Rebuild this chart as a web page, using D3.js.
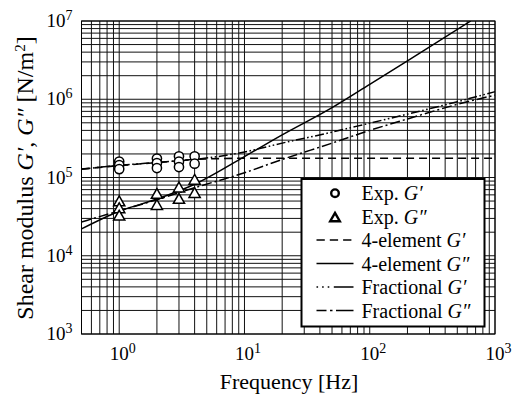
<!DOCTYPE html>
<html>
<head>
<meta charset="utf-8">
<script src="https://cdn.jsdelivr.net/npm/d3@7"></script>
<style>
  body { margin: 0; background: #fff; }
  text { font-family: "Liberation Serif", "Times New Roman", serif; fill: #000; }
</style>
</head>
<body>
<div id="graph"></div>
<script>
// experimental storage modulus G' (circles)
var expFreqG1 = [1, 1, 1, 2, 2, 2, 3, 3, 3, 4, 4];
var expG1 = [1.60e5, 1.44e5, 1.28e5, 1.75e5, 1.53e5, 1.32e5, 1.87e5, 1.60e5, 1.36e5, 1.87e5, 1.50e5];

// experimental loss modulus G'' (triangles)
var expFreqG2 = [1, 1, 1, 2, 2, 3, 3, 4, 4];
var expG2 = [4.98e4, 4.07e4, 3.27e4, 6.2e4, 4.48e4, 7.5e4, 5.35e4, 9.4e4, 6.37e4];

// model curves
var modelFreq = [0.5, 1, 2, 4, 10, 20, 50, 100, 200, 500, 1000];
var fourElemG1 = [1.28e5, 1.42e5, 1.55e5, 1.70e5, 1.76e5, 1.76e5, 1.76e5, 1.76e5, 1.76e5, 1.76e5, 1.76e5];
var fracG1 = [1.28e5, 1.43e5, 1.56e5, 1.70e5, 2.12e5, 2.75e5, 3.80e5, 4.95e5, 6.45e5, 9.3e5, 1.25e6];
var fracG2 = [2.7e4, 3.75e4, 5.2e4, 7.4e4, 1.15e5, 1.7e5, 2.75e5, 4.0e5, 5.6e5, 8.6e5, 1.13e6];
var fourElemG2Freq = [0.5, 1, 2, 4, 10, 20, 50, 100, 200, 640];
var fourElemG2 = [2.2e4, 3.7e4, 5.3e4, 8.2e4, 1.85e5, 3.5e5, 7.8e5, 1.55e6, 3.1e6, 1.0e7];

var xTickValues = [1, 10, 100, 1000];
var yTickValues = [1e3, 1e4, 1e5, 1e6, 1e7];

var legendLabels = ["Exp. ", "Exp. ", "4-element ", "4-element ", "Fractional ", "Fractional "];
var legendSymbols = ["G\u2032", "G\u2033", "G\u2032", "G\u2033", "G\u2032", "G\u2033"];

// set the dimensions and margins of the graph
var margin = {top: 21, right: 25, bottom: 67, left: 81.5},
    width = 520 - margin.left - margin.right,
    height = 401 - margin.top - margin.bottom;

var x = d3.scaleLog().domain([0.5, 1000]).range([0, width]);
var y = d3.scaleLog().domain([1e3, 1e7]).range([height, 0]);

var svg = d3.select("#graph").append("svg")
    .attr("width", 520)
    .attr("height", 401)
  .append("g")
    .attr("transform", "translate(" + margin.left + "," + margin.top + ")");

svg.append("clipPath").attr("id", "plotclip")
  .append("rect").attr("x", -6).attr("width", width + 6).attr("height", height);

// grid
var grid = svg.append("g").attr("stroke", "#111").attr("stroke-width", 1);
grid.selectAll(".vx").data(x.ticks()).enter().append("line")
    .attr("x1", function(d) { return x(d); }).attr("x2", function(d) { return x(d); })
    .attr("y1", 0).attr("y2", height);
grid.selectAll(".hy").data(y.ticks()).enter().append("line")
    .attr("y1", function(d) { return y(d); }).attr("y2", function(d) { return y(d); })
    .attr("x1", 0).attr("x2", width);

// curves
var valueline = d3.line()
    .x(function(d) { return x(d[0]); })
    .y(function(d) { return y(d[1]); })
    .curve(d3.curveMonotoneX);

var curves = [
  {f: modelFreq, v: fourElemG1, dash: "8,5", w: 1.6},
  {f: fourElemG2Freq, v: fourElemG2, dash: null, w: 1.5},
  {f: modelFreq, v: fracG1, dash: "9,2.5,1.6,2.5,1.6,2.5", w: 1.5},
  {f: modelFreq, v: fracG2, dash: "10,3,2,3", w: 1.5}
];
var plot = svg.append("g").attr("clip-path", "url(#plotclip)");
curves.forEach(function(c) {
  plot.append("path")
    .datum(d3.zip(c.f, c.v))
    .attr("fill", "none")
    .attr("stroke", "#000")
    .attr("stroke-width", c.w)
    .attr("stroke-dasharray", c.dash)
    .attr("d", valueline);
});

// markers
var triPath = "M0,-5.2L5.6,4.6L-5.6,4.6Z";
plot.selectAll(".circ").data(d3.zip(expFreqG1, expG1)).enter().append("circle")
    .attr("cx", function(d) { return x(d[0]); })
    .attr("cy", function(d) { return y(d[1]); })
    .attr("r", 4.6)
    .attr("fill", "#fff").attr("stroke", "#000").attr("stroke-width", 1.5);
plot.selectAll(".tri").data(d3.zip(expFreqG2, expG2)).enter().append("path")
    .attr("transform", function(d) { return "translate(" + x(d[0]) + "," + y(d[1]) + ")"; })
    .attr("d", triPath)
    .attr("fill", "#fff").attr("stroke", "#000").attr("stroke-width", 1.5);

// frame
svg.append("rect").attr("width", width).attr("height", height)
    .attr("fill", "none").attr("stroke", "#000").attr("stroke-width", 1);

// tick labels
var xl = svg.selectAll(".xl").data(xTickValues).enter().append("text")
    .attr("x", function(d) { return x(d) - 9.5; })
    .attr("y", height + 26)
    .style("font-size", "19px");
xl.append("tspan").text("10");
xl.append("tspan").attr("dy", -7).style("font-size", "14px")
    .text(function(d) { return Math.round(Math.log10(d)); });

var yl = svg.selectAll(".yl").data(yTickValues).enter().append("text")
    .attr("x", -9)
    .attr("y", function(d) { return y(d) + 6; })
    .attr("text-anchor", "end")
    .style("font-size", "19px");
yl.append("tspan").text("10");
yl.append("tspan").attr("dy", -7).style("font-size", "14px")
    .text(function(d) { return Math.round(Math.log10(d)); });

// axis titles
svg.append("text")
    .attr("x", 289 - margin.left).attr("y", 389 - margin.top)
    .attr("text-anchor", "middle")
    .style("font-size", "22px")
    .text("Frequency [Hz]");

var yt = svg.append("text")
    .attr("transform", "translate(" + (33 - margin.left) + "," + (178 - margin.top) + ") rotate(-90)")
    .attr("text-anchor", "middle")
    .style("font-size", "24px");
yt.append("tspan").text("Shear modulus ");
yt.append("tspan").style("font-style", "italic").text("G\u2032");
yt.append("tspan").text(", ");
yt.append("tspan").style("font-style", "italic").text("G\u2033");
yt.append("tspan").text(" [N/m");
yt.append("tspan").attr("dy", -8).style("font-size", "15px").text("2");
yt.append("tspan").attr("dy", 8).text("]");

// legend
var lg = svg.append("g").attr("transform", "translate(" + (301.5 - margin.left) + "," + (179 - margin.top) + ")");
lg.append("rect").attr("width", 183).attr("height", 147.5)
    .attr("fill", "#fff").attr("stroke", "#000").attr("stroke-width", 2);

var rowY = function(i) { return 21 + i * 23.5; };
lg.append("circle").attr("cx", 33.5).attr("cy", rowY(0) - 6.8).attr("r", 3.8)
    .attr("fill", "none").attr("stroke", "#000").attr("stroke-width", 2.4);
lg.append("path").attr("transform", "translate(33.5," + (rowY(1) - 6.3) + ")")
    .attr("d", "M0,-4.3L4.8,4L-4.8,4Z")
    .attr("fill", "none").attr("stroke", "#000").attr("stroke-width", 2.4);

var legendDash = ["8.3,5", null, "1.6,4,1.6,4,1.6,4.5,22", "10,3.5,2.5,3.5,22"];
legendDash.forEach(function(dsh, i) {
  lg.append("line")
    .attr("x1", 15).attr("x2", 52)
    .attr("y1", rowY(i + 2) - 7).attr("y2", rowY(i + 2) - 7)
    .attr("stroke", "#000").attr("stroke-width", 1.7)
    .attr("stroke-dasharray", dsh);
});

var lt = lg.selectAll(".lt").data(d3.range(6)).enter().append("text")
    .attr("x", 60).attr("y", function(i) { return rowY(i); })
    .style("font-size", "20px");
lt.append("tspan").text(function(i) { return legendLabels[i]; });
lt.append("tspan").style("font-style", "italic").text(function(i) { return legendSymbols[i]; });
</script>
</body>
</html>
